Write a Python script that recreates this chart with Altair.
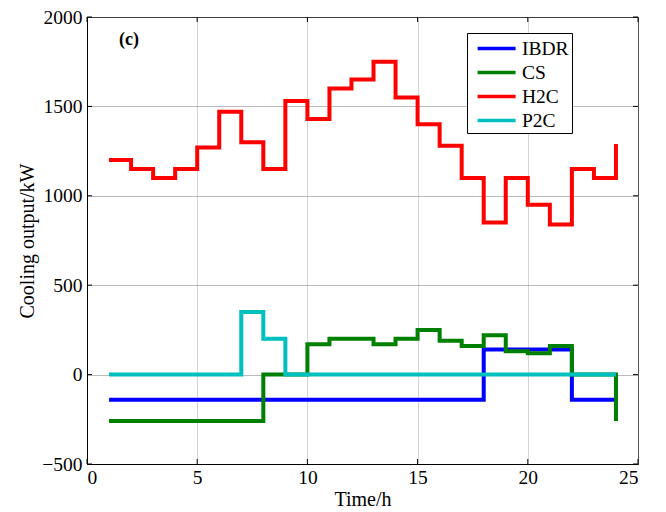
import altair as alt
import pandas as pd

hours = list(range(1, 25))
ibdr = [-140] * 17 + [140] * 4 + [-140] * 3
cs = [-260, -260, -260, -260, -260, -260, -260, 0, 0, 170, 200, 200,
      170, 200, 250, 190, 160, 220, 130, 120, 160, 0, 0, -260]
h2c = [1200, 1150, 1100, 1150, 1270, 1470, 1300, 1150, 1530, 1430, 1600, 1650,
       1750, 1550, 1400, 1280, 1100, 850, 1100, 950, 840, 1150, 1100, 1290]
p2c = [0] * 6 + [350, 200] + [0] * 16

series_names = ["IBDR", "CS", "H2C", "P2C"]
series_values = [ibdr, cs, h2c, p2c]
series_colors = ["#0000FF", "#008000", "#FF0000", "#00BFBF"]

x_ticks = [0, 5, 10, 15, 20, 25]
y_ticks = [-500, 0, 500, 1000, 1500, 2000]

W, H = 551, 447
FONT = "Liberation Serif"

xscale = alt.Scale(domain=[0, 25], nice=False)
yscale = alt.Scale(domain=[-500, 2000], nice=False)
cscale = alt.Scale(domain=series_names, range=series_colors)

xaxis = alt.Axis(values=x_ticks, title="Time/h", grid=True,
                 gridColor="#aaaaaa", gridDash=[1, 1],
                 ticks=False, labelPadding=4, titlePadding=3, format="d")
yaxis = alt.Axis(values=y_ticks, title="Cooling output/kW", grid=True,
                 gridColor="#777777", gridDash=[1, 1],
                 ticks=False, labelPadding=5, titlePadding=4, format="d")

layers = []
for name, vals in zip(series_names, series_values):
    df = pd.DataFrame({"hour": hours, "value": vals, "series": name})
    layers.append(
        alt.Chart(df).mark_line(interpolate="step-after", strokeWidth=4).encode(
            x=alt.X("hour:Q", scale=xscale, axis=xaxis),
            y=alt.Y("value:Q", scale=yscale, axis=yaxis),
            color=alt.Color("series:N", scale=cscale,
                            legend=alt.Legend(title=None, orient="none",
                                              legendX=380, legendY=16))
        )
    )

ytick_df = pd.DataFrame({"hour": [0] * len(y_ticks), "value": y_ticks})
xtick_df = pd.DataFrame({"hour": x_ticks, "value": [0] * len(x_ticks)})
tick_layers = [
    alt.Chart(ytick_df).mark_rule(color="black", strokeWidth=1).encode(
        y=alt.Y("value:Q", scale=yscale, axis=yaxis), x=alt.value(0), x2=alt.value(5)),
    alt.Chart(ytick_df).mark_rule(color="black", strokeWidth=1).encode(
        y=alt.Y("value:Q", scale=yscale, axis=yaxis), x=alt.value(W - 5), x2=alt.value(W)),
    alt.Chart(xtick_df).mark_rule(color="black", strokeWidth=1).encode(
        x=alt.X("hour:Q", scale=xscale, axis=xaxis), y=alt.value(H), y2=alt.value(H - 5)),
    alt.Chart(xtick_df).mark_rule(color="black", strokeWidth=1).encode(
        x=alt.X("hour:Q", scale=xscale, axis=xaxis), y=alt.value(0), y2=alt.value(5)),
]

label_df = pd.DataFrame({"hour": [1.9], "value": [1870], "t": ["(c)"]})
label = alt.Chart(label_df).mark_text(font=FONT, fontSize=18, fontWeight="bold",
                                      color="black").encode(
    x=alt.X("hour:Q", scale=xscale, axis=xaxis),
    y=alt.Y("value:Q", scale=yscale, axis=yaxis),
    text="t:N")

chart = alt.layer(*layers, *tick_layers, label).properties(
    width=W, height=H,
    autosize=alt.AutoSizeParams(type="none"),
    padding={"left": 87, "top": 17, "right": 28, "bottom": 48},
).configure_view(stroke="black", strokeWidth=1).configure_axis(
    labelFont=FONT, labelFontSize=19.5, labelColor="black",
    titleFont=FONT, titleFontSize=20, titleFontWeight="normal", titleColor="black",
    domainColor="black", domainWidth=1,
).configure_legend(
    labelFont=FONT, labelFontSize=19.5, labelColor="black",
    symbolType="M-0.467,0H3.152", symbolStrokeWidth=3.5, symbolSize=441,
    strokeColor="black", fillColor="white", padding=3, rowPadding=2,
    labelOffset=27,
)

chart.save("out.html", embed_options={"renderer": "svg", "actions": False})
